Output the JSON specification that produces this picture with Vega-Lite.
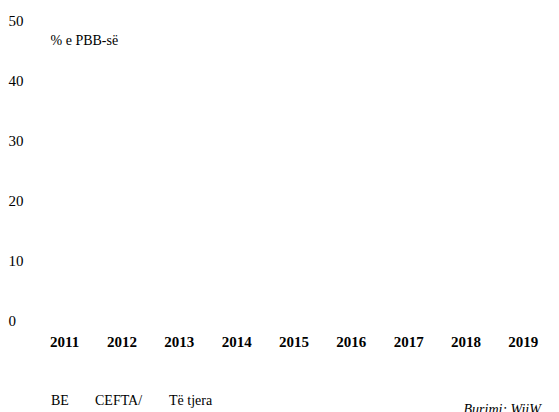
{
  "$schema": "https://vega.github.io/schema/vega-lite/v6.json",
  "autosize": {"type": "none"},
  "width": 516,
  "height": 300,
  "padding": {"left": 36, "top": 20, "right": 7, "bottom": 92},
  "background": "white",
  "config": {
    "view": {"stroke": null},
    "font": "Liberation Serif"
  },
  "data": {
    "values": [
      {"year": "2011", "group": "BE", "value": 0},
      {"year": "2011", "group": "CEFTA/", "value": 0},
      {"year": "2011", "group": "Të tjera", "value": 0},
      {"year": "2012", "group": "BE", "value": 0},
      {"year": "2012", "group": "CEFTA/", "value": 0},
      {"year": "2012", "group": "Të tjera", "value": 0},
      {"year": "2013", "group": "BE", "value": 0},
      {"year": "2013", "group": "CEFTA/", "value": 0},
      {"year": "2013", "group": "Të tjera", "value": 0},
      {"year": "2014", "group": "BE", "value": 0},
      {"year": "2014", "group": "CEFTA/", "value": 0},
      {"year": "2014", "group": "Të tjera", "value": 0},
      {"year": "2015", "group": "BE", "value": 0},
      {"year": "2015", "group": "CEFTA/", "value": 0},
      {"year": "2015", "group": "Të tjera", "value": 0},
      {"year": "2016", "group": "BE", "value": 0},
      {"year": "2016", "group": "CEFTA/", "value": 0},
      {"year": "2016", "group": "Të tjera", "value": 0},
      {"year": "2017", "group": "BE", "value": 0},
      {"year": "2017", "group": "CEFTA/", "value": 0},
      {"year": "2017", "group": "Të tjera", "value": 0},
      {"year": "2018", "group": "BE", "value": 0},
      {"year": "2018", "group": "CEFTA/", "value": 0},
      {"year": "2018", "group": "Të tjera", "value": 0},
      {"year": "2019", "group": "BE", "value": 0},
      {"year": "2019", "group": "CEFTA/", "value": 0},
      {"year": "2019", "group": "Të tjera", "value": 0}
    ]
  },
  "mark": {"type": "bar"},
  "encoding": {
    "x": {
      "field": "year",
      "type": "nominal",
      "sort": null,
      "axis": {
        "labelAngle": 0,
        "labelFont": "Liberation Serif",
        "labelFontSize": 15,
        "labelFontWeight": "bold",
        "labelColor": "black",
        "labelPadding": 14,
        "ticks": false,
        "domain": false,
        "title": "Burimi: WiiW",
        "titleFont": "Liberation Serif",
        "titleFontSize": 14,
        "titleFontStyle": "italic",
        "titleFontWeight": "normal",
        "titleColor": "black",
        "titleAlign": "left",
        "titleBaseline": "middle",
        "titleX": 427,
        "titleY": 89
      }
    },
    "y": {
      "field": "value",
      "type": "quantitative",
      "stack": "zero",
      "scale": {"domain": [0, 50], "nice": false},
      "axis": {
        "values": [0, 10, 20, 30, 40, 50],
        "grid": false,
        "domain": false,
        "ticks": false,
        "tickSize": 0,
        "labelAlign": "left",
        "labelBaseline": "middle",
        "labelPadding": 28,
        "labelFont": "Liberation Serif",
        "labelFontSize": 15,
        "labelColor": "black",
        "title": "% e PBB-së",
        "titleAngle": 0,
        "titleFont": "Liberation Serif",
        "titleFontSize": 14,
        "titleFontWeight": "normal",
        "titleColor": "black",
        "titleAlign": "left",
        "titleBaseline": "middle",
        "titleX": 14,
        "titleY": 20
      }
    },
    "color": {
      "field": "group",
      "type": "nominal",
      "sort": ["BE", "CEFTA/", "Të tjera"],
      "scale": {"range": ["#1f3864", "#c55a11", "#a5a5a5"]},
      "legend": {
        "orient": "none",
        "direction": "horizontal",
        "legendX": 1,
        "legendY": 374,
        "title": null,
        "symbolSize": 0,
        "symbolOpacity": 0,
        "symbolStrokeWidth": 0,
        "labelOffset": 0,
        "columnPadding": 12,
        "labelFont": "Liberation Serif",
        "labelFontSize": 14,
        "labelColor": "black"
      }
    }
  }
}
